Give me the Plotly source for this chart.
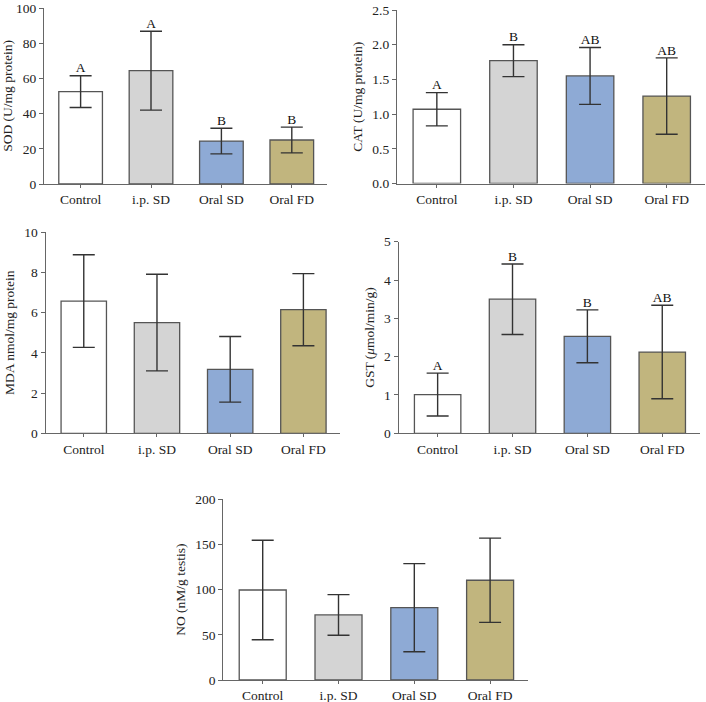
import plotly.graph_objects as go

grupos = ['Control', 'i.p. SD', 'Oral SD', 'Oral FD']
colores = ['#ffffff', '#d4d4d4', '#8eaad5', '#c1b57e']

# valores medios y desviaciones
sod = [52.5, 64.4, 24.4, 25.0]
sod_err = [9.0, 22.4, 7.3, 7.3]
sod_letras = ['A', 'A', 'B', 'B']

cat = [1.07, 1.77, 1.55, 1.26]
cat_err = [0.24, 0.23, 0.41, 0.55]
cat_letras = ['A', 'B', 'AB', 'AB']

mda = [6.57, 5.50, 3.18, 6.14]
mda_err = [2.30, 2.40, 1.63, 1.79]

gst = [1.01, 3.50, 2.53, 2.12]
gst_err = [0.56, 0.92, 0.69, 1.22]
gst_letras = ['A', 'B', 'B', 'AB']

no = [99.6, 72.0, 80.0, 110.4]
no_err = [55.0, 22.5, 48.8, 46.6]

W, H = 706, 702
FUENTE = 'Liberation Serif'

# (valores, errores, letras, titulo eje y, rango y, dtick, formato, caja en px x0,x1,y0,y1)
paneles = [
    (sod, sod_err, sod_letras, 'SOD (U/mg protein)', [0, 100], 20, None, (44, 327, 8, 184)),
    (cat, cat_err, cat_letras, 'CAT (U/mg protein)', [0, 2.5], 0.5, '.1f', (397, 705, 10, 183.5)),
    (mda, mda_err, None, 'MDA nmol/mg protein', [0, 10], 2, None, (45.7, 340, 232, 433.3)),
    (gst, gst_err, gst_letras, 'GST (<i>μ</i>mol/min/g)', [0, 5], 1, None, (398.7, 699.7, 241.7, 433.3)),
    (no, no_err, None, 'NO (nM/g testis)', [0, 200], 50, None, (223.3, 528, 499.3, 680)),
]

fig = go.Figure()
layout = {}

for i, (vals, errs, letras, titulo, rango, dtick, fmt, caja) in enumerate(paneles):
    n = '' if i == 0 else str(i + 1)
    xa, ya = 'x' + n, 'y' + n
    x0, x1, y0, y1 = caja

    # Barras con barras de error
    fig.add_trace(go.Bar(
        x=grupos, y=vals, xaxis=xa, yaxis=ya, width=0.62,
        marker=dict(color=colores, line=dict(color='#555555', width=1.3)),
        error_y=dict(type='data', array=errs, color='#333333', thickness=1.4, width=11),
        showlegend=False
    ))

    # Letras de significancia encima del error
    if letras:
        fig.add_trace(go.Scatter(
            x=grupos, y=[v + e for v, e in zip(vals, errs)], xaxis=xa, yaxis=ya,
            mode='text', text=letras, textposition='top center',
            textfont=dict(family=FUENTE, size=13.5, color='#111111'),
            showlegend=False, cliponaxis=False
        ))

    layout['xaxis' + n] = dict(
        domain=[x0 / W, x1 / W], anchor=ya, range=[-0.52, 3.5], automargin=False,
        showline=True, linecolor='#666666', linewidth=1.3,
        ticks='outside', ticklen=3, tickcolor='#666666',
        tickfont=dict(family=FUENTE, size=13.5, color='#222222'),
        ticklabeloverflow='allow',
        showgrid=False, zeroline=False, fixedrange=True
    )
    layout['yaxis' + n] = dict(
        domain=[1 - y1 / H, 1 - y0 / H], anchor=xa, range=rango, dtick=dtick,
        tickformat=fmt, automargin=False, ticklabeloverflow='allow',
        showline=True, linecolor='#666666', linewidth=1.3,
        ticks='outside', ticklen=4, tickcolor='#666666',
        tickfont=dict(family=FUENTE, size=13.5, color='#222222'),
        title=dict(text=titulo, font=dict(family=FUENTE, size=13.5, color='#222222'), standoff=6),
        showgrid=False, zeroline=False, fixedrange=True
    )

fig.update_layout(
    width=W, height=H,
    margin=dict(l=0, r=0, t=0, b=0),
    paper_bgcolor='white', plot_bgcolor='white',
    bargap=0.38,
    **layout
)

# sin margen del body para que la figura ocupe la ventana exacta
fig.write_html("out.html", config={'displayModeBar': False},
               post_script="document.body.style.margin='0';document.body.style.overflow='hidden';")
